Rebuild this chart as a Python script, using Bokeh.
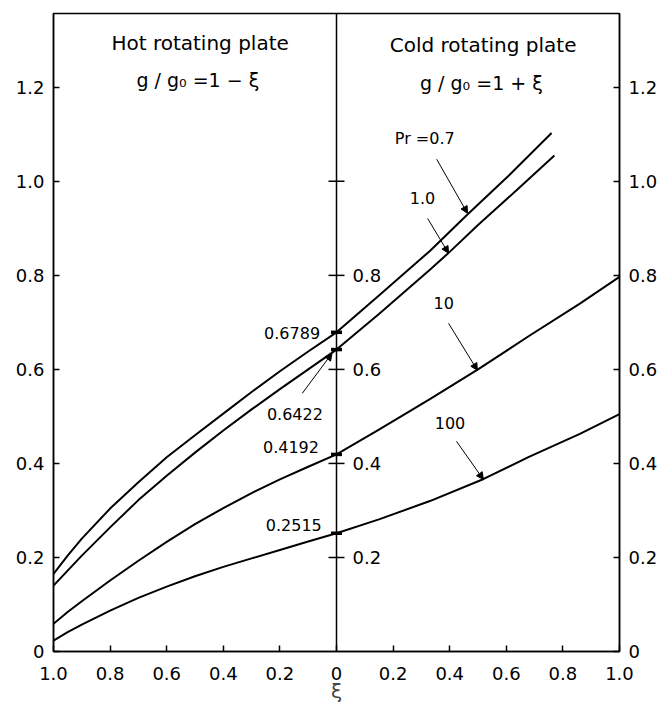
from bokeh.plotting import figure
from bokeh.models import Range1d, LinearAxis, FixedTicker, Span, Arrow, NormalHead, ColumnDataSource
from bokeh.core.properties import value
from bokeh.embed import file_html
from bokeh.resources import INLINE

FONT = "DejaVu Sans"

# ---------------- data ----------------
# hot rotating plate (left half, plotted at -xi)
hot_xi = [1.0, 0.95, 0.9, 0.8, 0.7, 0.6, 0.5, 0.4, 0.3, 0.2, 0.1, 0.0]
hot_pr07 = [0.165, 0.204, 0.240, 0.304, 0.360, 0.413, 0.460, 0.506, 0.552, 0.596, 0.638, 0.6789]
hot_pr1 = [0.140, 0.172, 0.204, 0.264, 0.322, 0.374, 0.423, 0.470, 0.515, 0.558, 0.600, 0.6422]
hot_pr10 = [0.059, 0.084, 0.107, 0.151, 0.193, 0.233, 0.271, 0.305, 0.337, 0.366, 0.393, 0.4192]
hot_pr100 = [0.023, 0.041, 0.057, 0.087, 0.114, 0.138, 0.160, 0.180, 0.198, 0.216, 0.234, 0.2515]

# cold rotating plate (right half)
cold_xi_pr07 = [0.0, 0.15, 0.33, 0.46, 0.61, 0.76]
cold_pr07 = [0.6789, 0.757, 0.852, 0.928, 1.013, 1.103]
cold_xi_pr1 = [0.0, 0.15, 0.33, 0.40, 0.50, 0.64, 0.77]
cold_pr1 = [0.6422, 0.718, 0.812, 0.850, 0.907, 0.983, 1.055]
cold_xi_pr10 = [0.0, 0.15, 0.33, 0.50, 0.68, 0.86, 1.0]
cold_pr10 = [0.4192, 0.472, 0.537, 0.600, 0.671, 0.740, 0.797]
cold_xi_pr100 = [0.0, 0.15, 0.33, 0.52, 0.68, 0.86, 1.0]
cold_pr100 = [0.2515, 0.281, 0.320, 0.367, 0.414, 0.463, 0.505]

# values at xi = 0
center_vals = [0.6789, 0.6422, 0.4192, 0.2515]
center_val_labels = ["0.6789", "0.6422", "0.4192", "0.2515"]

# ticks
x_ticks = [-1.0, -0.8, -0.6, -0.4, -0.2, 0.0, 0.2, 0.4, 0.6, 0.8, 1.0]
x_tick_labels = ["1.0", "0.8", "0.6", "0.4", "0.2", "0", "0.2", "0.4", "0.6", "0.8", "1.0"]
y_ticks = [0.0, 0.2, 0.4, 0.6, 0.8, 1.0, 1.2]
y_tick_labels = ["0", "0.2", "0.4", "0.6", "0.8", "1.0", "1.2"]
mid_ticks = [0.2, 0.4, 0.6, 0.8, 1.0]
mid_tick_labels = ["0.2", "0.4", "0.6", "0.8"]

# ---------------- annotation layout ----------------
pr_labels = ["Pr =0.7", "1.0", "10", "100"]
pr_label_x = [0.206, 0.259, 0.343, 0.347]
pr_label_y = [1.091, 0.964, 0.741, 0.486]
arrow_x0 = [0.354, 0.322, 0.396, 0.424, -0.121]
arrow_y0 = [1.047, 0.921, 0.698, 0.447, 0.549]
arrow_x1 = [0.463, 0.396, 0.498, 0.519, -0.016]
arrow_y1 = [0.932, 0.847, 0.598, 0.366, 0.634]
val_label_x = [-0.058, -0.246, -0.062, -0.052]
val_label_y = [0.677, 0.506, 0.435, 0.270]
val_label_align = ["right", "left", "right", "right"]

titles = ["Hot rotating plate", "g / g\u2080 =1 \u2212 \u03be", "Cold rotating plate", "g / g\u2080 =1 + \u03be"]
title_x = [-0.482, -0.49, 0.518, 0.512]
title_y = [1.294, 1.215, 1.289, 1.209]
title_size = ["20px", "19px", "20px", "19px"]

# ---------------- figure ----------------
p = figure(width=660, height=705, x_range=Range1d(-1, 1), y_range=Range1d(0, 1.357),
           output_backend="svg", toolbar_location=None,
           min_border_left=53, min_border_right=39, min_border_top=13, min_border_bottom=54)
p.xgrid.visible = False
p.ygrid.visible = False
p.outline_line_color = "black"
p.outline_line_width = 1.5
p.background_fill_color = "white"
p.border_fill_color = "white"

p.add_layout(LinearAxis(), "right")


def style_axis(ax, ticks, labels, standoff):
    ax.ticker = FixedTicker(ticks=ticks)
    ax.major_label_overrides = dict(zip(ticks, labels))
    ax.major_tick_in = 6
    ax.major_tick_out = 0
    ax.minor_tick_line_color = None
    ax.axis_line_color = "black"
    ax.axis_line_width = 1.5
    ax.major_tick_line_color = "black"
    ax.major_tick_line_width = 1.5
    ax.major_label_text_font = FONT
    ax.major_label_text_font_size = "18px"
    ax.major_label_text_color = "black"
    ax.major_label_standoff = standoff


style_axis(p.xaxis[0], x_ticks, x_tick_labels, 15)
for ax in p.yaxis:
    style_axis(ax, y_ticks, y_tick_labels, 9)

p.xaxis.axis_label = "\u03be"
p.xaxis.axis_label_text_font = FONT
p.xaxis.axis_label_text_font_style = "normal"
p.xaxis.axis_label_text_font_size = "20px"
p.xaxis.axis_label_standoff = -4

# centre axis (xi = 0)
p.add_layout(Span(location=0, dimension="height", line_color="black", line_width=1.5))
p.scatter(x=[0] * len(mid_ticks), y=mid_ticks, marker="dash", size=16,
          line_color="black", line_width=1.5)
p.text(x=[0] * len(mid_tick_labels), y=mid_ticks[:len(mid_tick_labels)], text=mid_tick_labels,
       x_offset=16, text_baseline="middle", text_align="left",
       text_font=value(FONT), text_font_size="18px", text_color="black")

# curves
curves = [(hot_pr07, cold_xi_pr07, cold_pr07),
          (hot_pr1, cold_xi_pr1, cold_pr1),
          (hot_pr10, cold_xi_pr10, cold_pr10),
          (hot_pr100, cold_xi_pr100, cold_pr100)]
for hot, cxi, cold in curves:
    xs = [-v for v in hot_xi] + cxi[1:]
    ys = hot + cold[1:]
    p.line(xs, ys, line_color="black", line_width=2, line_join="round")

# marks at xi = 0
p.scatter(x=[0] * len(center_vals), y=center_vals, marker="dash", size=11,
          line_color="black", line_width=3.5)

# value labels
p.text(x=val_label_x, y=val_label_y, text=center_val_labels,
       text_align=val_label_align, text_baseline="middle",
       text_font=value(FONT), text_font_size="16px", text_color="black")

# Pr labels
p.text(x=pr_label_x, y=pr_label_y, text=pr_labels, text_align="left", text_baseline="middle",
       text_font=value(FONT), text_font_size="16px", text_color="black")

# arrows
asrc = ColumnDataSource(dict(x0=arrow_x0, y0=arrow_y0, x1=arrow_x1, y1=arrow_y1))
p.add_layout(Arrow(end=NormalHead(size=7, fill_color="black", line_color="black"),
                   x_start="x0", y_start="y0", x_end="x1", y_end="y1", source=asrc,
                   line_color="black", line_width=1))

# titles
p.text(x=title_x, y=title_y, text=titles, text_align="center", text_baseline="middle",
       text_font=value(FONT), text_font_size=title_size, text_color="black")

open("out.html", "w").write(file_html(p, INLINE))
